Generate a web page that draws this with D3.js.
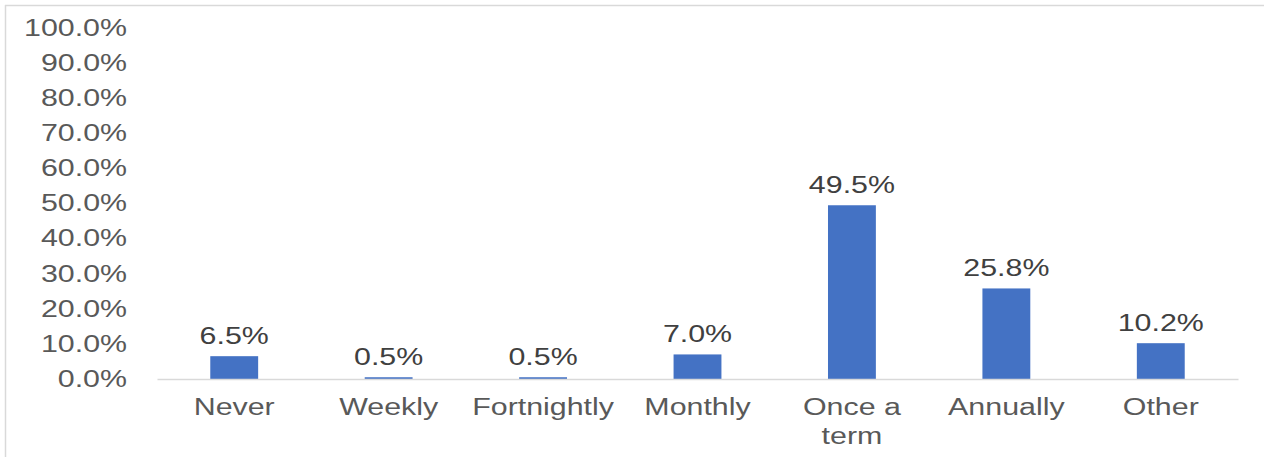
<!DOCTYPE html>
<html>
<head>
<meta charset="utf-8">
<script src="https://cdn.jsdelivr.net/npm/d3@7"></script>
<style>
	body { margin: 0; background: #fff; }
	svg { display: block; font-family: "Liberation Sans", Arial, sans-serif; }
	.y.axis text { fill: #595959; font-size: 23px; }
	.x.axis text { fill: #595959; font-size: 23px; }
	.label { fill: #404040; font-size: 23px; }
</style>
</head>
<body>
<div id="chart"></div>
<script>
//Data
var categories = ["Never", "Weekly", "Fortnightly", "Monthly", "Once a term", "Annually", "Other"];
var values = [6.5, 0.5, 0.5, 7.0, 49.5, 25.8, 10.2];
var yTicks = [0, 10, 20, 30, 40, 50, 60, 70, 80, 90, 100];

var renderChart = function() {
	var W = 1264, H = 457;
	var margin = { top: 28, right: 26, bottom: 78, left: 157 };
	var width = W - margin.left - margin.right;
	var height = 379 - margin.top;

	var root = d3.select("#chart")
		.append("svg")
		.attr("width", W)
		.attr("height", H);

	//chart area border (top and left visible)
	root.append("line")
		.attr("x1", 5).attr("x2", W).attr("y1", 5.5).attr("y2", 5.5)
		.attr("stroke", "#d9d9d9").attr("stroke-width", 1.5);
	root.append("line")
		.attr("x1", 5.5).attr("x2", 5.5).attr("y1", 5).attr("y2", H)
		.attr("stroke", "#d9d9d9").attr("stroke-width", 1.5);

	var svg = root.append("g")
		.attr("transform", "translate(" + margin.left + "," + margin.top + ")");

	//Scales
	var x = d3.scaleBand()
		.domain(categories)
		.range([0, width])
		.paddingInner(0.69)
		.paddingOuter(0.345);

	var y = d3.scaleLinear()
		.domain([0, 100])
		.range([height, 0]);

	//y axis, labels only
	var yAxis = svg.append("g")
		.attr("class", "y axis")
		.call(d3.axisLeft(y).tickValues(yTicks).tickSize(0).tickPadding(30)
			.tickFormat(function(d) { return d.toFixed(1) + "%"; }));
	yAxis.select(".domain").remove();

	//Bars
	svg.selectAll(".bar")
		.data(values)
		.enter()
		.append("rect")
		.attr("class", "bar")
		.attr("x", function(d, i) { return x(categories[i]); })
		.attr("y", function(d) { return y(d); })
		.attr("width", x.bandwidth())
		.attr("height", function(d) { return y(0) - y(d); })
		.attr("fill", "#4472c4");

	//x axis
	var xAxis = svg.append("g")
		.attr("class", "x axis")
		.attr("transform", "translate(0," + height + ")")
		.call(d3.axisBottom(x).tickSize(0).tickPadding(20));
	xAxis.select(".domain")
		.attr("stroke", "#d9d9d9")
		.attr("stroke-width", 1.5);
	xAxis.selectAll(".tick text")
		.call(wrap, 120);

	//Data labels
	svg.selectAll(".label")
		.data(values)
		.enter()
		.append("text")
		.attr("class", "label")
		.attr("x", function(d, i) { return x(categories[i]) + x.bandwidth() / 2; })
		.attr("y", function(d) { return y(d) - 12; })
		.attr("text-anchor", "middle")
		.text(function(d) { return d.toFixed(1) + "%"; });

	//the original text is drawn wide, so widen glyphs a bit
	root.selectAll(".y.axis text, .label, .x.axis tspan").each(function() {
		var len = this.getComputedTextLength();
		d3.select(this)
			.attr("textLength", len * 1.32)
			.attr("lengthAdjust", "spacingAndGlyphs");
	});
};

//Wraps tick text in tspans
var wrap = function(text, width) {
	text.each(function() {
		var text = d3.select(this),
		words = text.text().split(/\s+/).reverse(),
		word,
		line = [],
		lineNumber = 0,
		lineHeight = 1.25,
		y = text.attr("y"),
		dy = parseFloat(text.attr("dy")),
		tspan = text.text(null).append("tspan").attr("x", 0).attr("y", y).attr("dy", dy + "em");
		while (word = words.pop()) {
			line.push(word);
			tspan.text(line.join(" "));
			if (tspan.node().getComputedTextLength() > width && line.length > 1) {
				line.pop();
				tspan.text(line.join(" "));
				line = [word];
				tspan = text.append("tspan").attr("x", 0).attr("y", y).attr("dy", ++lineNumber * lineHeight + dy + "em").text(word);
			}
		}
	});
};

renderChart();
</script>
</body>
</html>
